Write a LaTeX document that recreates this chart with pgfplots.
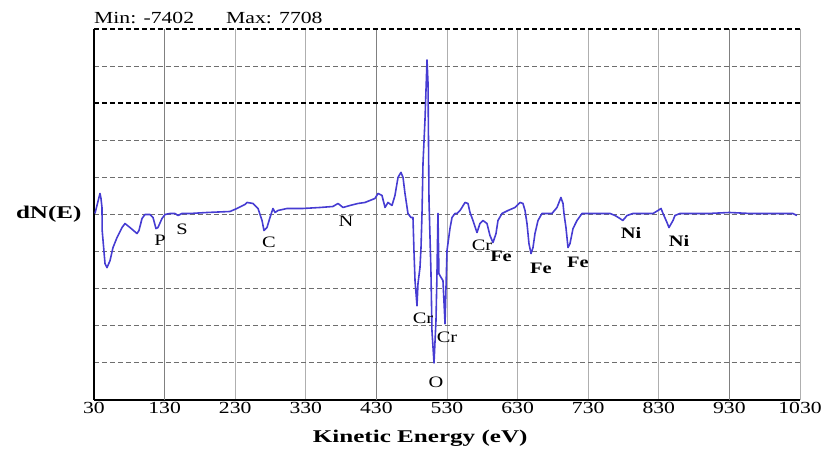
\documentclass[border=0pt]{standalone}
\usepackage{fontspec}
\setmainfont{Liberation Serif}[FakeStretch=1.28]
\newfontfamily\widefont{Liberation Serif}[FakeStretch=1.4]
\usepackage{pgfplots}
\pgfplotsset{compat=1.18}
\definecolor{spec}{RGB}{70,60,210}
\definecolor{gridgray}{RGB}{110,110,110}
\definecolor{vgray}{RGB}{175,175,175}

\begin{document}
\begin{tikzpicture}
\begin{axis}[
    name=ax,
    scale only axis,
    width=706bp, height=371bp,
    xmin=30, xmax=1030,
    ymin=-9250, ymax=9250,
    clip=false,
    axis x line*=bottom,
    axis y line*=left,
    axis line style={-, black, line width=1.4pt},
    xtick={30,230,330,530,630,730,830,1030},
    extra x ticks={130,430,930},
    extra x tick style={x grid style={solid, color=gray, line width=1.1pt}},
    ytick={-9250,-7400,-5550,-3700,-1850,0,1850,3700,7400},
    extra y ticks={5550,9250},
    extra y tick style={y grid style={black, dash pattern=on 5pt off 3pt, line width=1.4pt}},
    yticklabels={},
    extra y tick labels={},
    tick style={draw=none},
    xmajorgrids=true,
    ymajorgrids=true,
    x grid style={vgray, solid, line width=0.9pt},
    y grid style={gridgray, dash pattern=on 5pt off 3pt, line width=1.1pt},
    /pgf/number format/assume math mode=true,
    /pgf/number format/1000 sep={},
    tick label style={font=\fontsize{17}{18}\selectfont},
    xticklabel style={yshift=1bp},
    xlabel={Kinetic Energy (eV)},
    xlabel style={font=\widefont\bfseries\fontsize{18}{20}\selectfont, at={(axis description cs:0.462,-0.102)}, anchor=center},
    ylabel={dN(E)},
    ylabel style={font=\widefont\bfseries\fontsize{18}{20}\selectfont, rotate=-90, at={(axis description cs:-0.064,0.5)}, anchor=center},
]
\addplot[spec, line width=1.6pt, line join=round] coordinates {
(31.4,50) (38.5,1050) (39.9,800) (41.3,350) (41.6,-800) (45.6,-2450) (48.4,-2650)
(52.7,-2300) (56.9,-1650) (62.6,-1150) (69.7,-650) (73.9,-450) (81.0,-650)
(90.9,-950) (93.7,-800) (98.0,-200) (102.2,0) (109.3,0) (113.6,-150) (117.8,-700)
(120.6,-650) (126.3,-200) (130.6,0) (137.6,50) (144.7,50) (149.0,-50) (154.6,50)
(166.0,50) (190.1,100) (222.6,150) (232.5,300) (243.9,500) (246.7,600) (255.2,550)
(262.3,300) (268.0,-300) (270.8,-800) (275.0,-650) (279.3,-150) (283.5,300)
(286.4,100) (290.6,200) (303.4,300) (326.0,300) (350.1,350) (368.5,400) (375.6,550)
(382.7,350) (392.6,450) (403.9,550) (413.8,600) (420.9,700) (428.0,800) (432.3,1050)
(437.9,950) (442.2,350) (446.4,600) (452.1,450) (456.3,950) (460.6,1850) (464.8,2100)
(467.7,1850) (470.5,1050) (474.7,50) (479.0,-150) (481.8,-150) (483.2,-1800)
(484.7,-3300) (487.5,-4550) (488.9,-3450) (491.7,-2650) (493.2,-1650) (494.6,50)
(496.0,2550) (498.8,4700) (501.7,7708) (503.1,6550) (504.5,700) (507.3,-2900)
(508.7,-5800) (511.6,-7402) (514.4,-5300) (515.8,-2950) (517.2,50) (518.6,-2950)
(520.1,-3050) (524.3,-3300) (527.2,-5450) (530.0,-1800) (534.2,-700) (537.1,-150)
(541.3,50) (544.2,50) (548.4,200) (551.2,350) (555.5,600) (559.7,550) (562.6,100)
(566.8,-300) (572.5,-900) (576.7,-450) (581.0,-300) (586.6,-450) (590.9,-1050)
(595.1,-1400) (599.4,-950) (602.2,-300) (607.9,50) (616.4,200) (626.3,350)
(633.4,600) (637.6,550) (640.5,200) (643.3,-450) (646.1,-1450) (649.0,-1950)
(651.8,-1650) (654.6,-950) (658.9,-300) (664.5,50) (678.7,50) (685.8,350)
(691.4,850) (694.3,550) (695.7,50) (698.5,-650) (701.4,-1650) (704.2,-1450)
(708.5,-700) (714.1,-300) (721.2,50) (729.7,50) (743.9,50) (760.9,50) (768.0,-50)
(775.0,-200) (779.0,-300) (785.0,-50) (793.4,50) (821.8,50) (828.9,200) (833.1,300)
(836.0,50) (841.6,-400) (844.4,-650) (850.1,-300) (852.9,-50) (860.0,50) (900,50)
(930,100) (960,50) (1000,50) (1020,50) (1025.7,-50)
};
\begin{scope}[every node/.style={font=\fontsize{16}{17}\selectfont, inner sep=0pt}]
\node at (axis cs:123.5,-1300) {P};
\node at (axis cs:154.6,-750) {S};
\node at (axis cs:277.9,-1400) {C};
\node at (axis cs:387,-350) {N};
\node at (axis cs:496,-5200) {Cr};
\node at (axis cs:530,-6100) {Cr};
\node at (axis cs:514.4,-8350) {O};
\node at (axis cs:579.6,-1550) {Cr};
\node[font=\bfseries\fontsize{16}{17}\selectfont] at (axis cs:606.5,-2100) {Fe};
\node[font=\bfseries\fontsize{16}{17}\selectfont] at (axis cs:663,-2700) {Fe};
\node[font=\bfseries\fontsize{16}{17}\selectfont] at (axis cs:715.5,-2400) {Fe};
\node[font=\bfseries\fontsize{16}{17}\selectfont] at (axis cs:790.6,-900) {Ni};
\node[font=\bfseries\fontsize{16}{17}\selectfont] at (axis cs:858.6,-1300) {Ni};
\end{scope}
\node[anchor=base west, inner sep=0pt, font=\fontsize{17}{18}\selectfont] at (axis description cs:0,1.016) {Min: -7402};
\node[anchor=base west, inner sep=0pt, font=\fontsize{17}{18}\selectfont] at (axis description cs:0.187,1.016) {Max: 7708};
\end{axis}
\pgfresetboundingbox
\path ([xshift=-94bp,yshift=-50bp]ax.south west) rectangle ([xshift=33bp,yshift=29bp]ax.north east);
\end{tikzpicture}
\end{document}
